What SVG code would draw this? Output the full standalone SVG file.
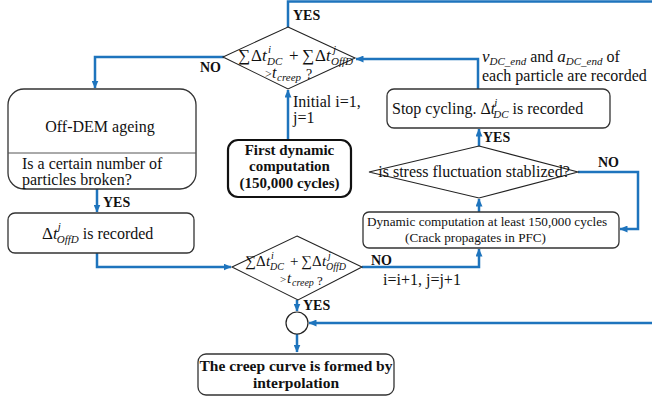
<svg xmlns="http://www.w3.org/2000/svg" width="652" height="399" viewBox="0 0 652 399" font-family="Liberation Serif, DejaVu Serif, serif">
<defs>
<marker id="ah" markerUnits="userSpaceOnUse" markerWidth="8" markerHeight="7" refX="7.5" refY="3.5" orient="auto">
<path d="M0,0 L8,3.5 L0,7 z" fill="#1E74BD"/>
</marker>
<style>
text{font-family:'Liberation Serif','DejaVu Serif',serif;fill:#111}
.t16{font-size:16px}
.t13{font-size:13.2px}
.b{font-weight:bold}
.lbl{font-size:14px;font-weight:bold}
.it{font-style:italic}
.box{fill:#fff;stroke:#333;stroke-width:1.3}
.dia{fill:#fff;stroke:#222;stroke-width:1.1}
.con{fill:none;stroke:#1E74BD;stroke-width:2.5}
.arr{marker-end:url(#ah)}
</style>
</defs>
<rect width="652" height="399" fill="#fff"/>

<g id="connectors">
<path class="con" d="M288,27 V1.5 H652"/>
<path class="con arr" d="M224,57 H95 V88"/>
<path class="con arr" d="M288,140 V90"/>
<path class="con arr" d="M478,89 V59 H356"/>
<path class="con arr" d="M479,146 V129"/>
<path class="con arr" d="M479,212 V199"/>
<path class="con arr" d="M578,172 H638 V229 H620"/>
<path class="con arr" d="M362,267 H479 V249"/>
<path class="con arr" d="M97,253 V267 H231"/>
<path class="con arr" d="M97,189 V212"/>
<path class="con arr" d="M297,300 V311"/>
<path class="con arr" d="M297,334 V352"/>
<path class="con arr" d="M652,323 H309"/>
</g>

<g id="labels">
<text class="lbl" x="293" y="20">YES</text>
<text class="lbl" x="200" y="72">NO</text>
<text class="lbl" x="103" y="207">YES</text>
<text class="lbl" x="483" y="142">YES</text>
<text class="lbl" x="598" y="167">NO</text>
<text class="lbl" x="371" y="265">NO</text>
<text class="lbl" x="303" y="310">YES</text>
<text class="t16" x="383" y="285">i=i+1, j=j+1</text>
<text class="t16" x="293" y="107">Initial i=1,</text>
<text class="t16" x="293" y="123">j=1</text>
<text class="t16" x="482" y="62"><tspan class="it" font-size="17">v</tspan><tspan class="it" font-size="11" y="65">DC_end</tspan><tspan y="62"> and </tspan><tspan class="it" font-size="17">a</tspan><tspan class="it" font-size="11" y="65">DC_end</tspan><tspan y="62"> of</tspan></text>
<text class="t16" x="482" y="81">each particle are recorded</text>
</g>

<g id="decision-top">
<polygon class="dia" points="288,27 355,58 288,89 223,57"/>
<text font-size="17"><tspan x="238" y="61">∑</tspan><tspan x="251" y="61">Δ</tspan><tspan class="it" x="262" y="61">t</tspan><tspan class="it" font-size="11" x="268" y="53">i</tspan><tspan class="it" font-size="11" x="267" y="65">DC</tspan><tspan x="289" y="61">+</tspan><tspan x="302" y="61">∑</tspan><tspan x="315" y="61">Δ</tspan><tspan class="it" x="326" y="61">t</tspan><tspan class="it" font-size="11" x="333" y="53">j</tspan><tspan class="it" font-size="11" x="331" y="65">OffD</tspan><tspan font-size="12" x="265" y="78">&gt;</tspan><tspan class="it" font-size="16" x="272" y="78">t</tspan><tspan class="it" font-size="11" x="277" y="81">creep</tspan><tspan font-size="14" x="306" y="79">?</tspan></text>
</g>

<g id="off-dem">
<rect class="box" x="8" y="89" width="188" height="100" rx="16"/>
<line x1="8" y1="153" x2="196" y2="153" stroke="#555" stroke-width="1"/>
<text class="t16" x="100" y="132" text-anchor="middle">Off-DEM ageing</text>
<text class="t16" x="22" y="169">Is a certain number of</text>
<text class="t16" x="22" y="185">particles broken?</text>
</g>

<g id="first-dynamic">
<rect x="228" y="140" width="123" height="57" rx="10" fill="#fff" stroke="#111" stroke-width="2.2"/>
<text class="b" font-size="15" x="289.5" y="155" text-anchor="middle">First dynamic</text>
<text class="b" font-size="15" x="289.5" y="171" text-anchor="middle">computation</text>
<text class="b" font-size="15" x="289.5" y="188" text-anchor="middle">(150,000 cycles)</text>
</g>

<g id="stop-cycling">
<rect class="box" x="387" y="89" width="223" height="39" rx="7"/>
<text class="t16" x="392" y="114">Stop cycling. <tspan>Δ</tspan><tspan class="it">t</tspan><tspan class="it" font-size="11" dx="-1" dy="-8">i</tspan><tspan class="it" font-size="11" dx="-4" dy="12">DC</tspan><tspan dy="-4"> is recorded</tspan></text>
</g>

<g id="stress-decision">
<polygon class="dia" points="479,146 578,172 479,198 369,172"/>
<text class="t16" x="474" y="177" text-anchor="middle">is stress fluctuation stablized?</text>
</g>

<g id="dynamic-computation">
<rect class="box" x="363" y="212" width="256" height="36" rx="6"/>
<text class="t13" x="367" y="226">Dynamic computation at least 150,000 cycles</text>
<text class="t13" x="405" y="242">(Crack propagates in PFC)</text>
</g>

<g id="offd-recorded">
<rect class="box" x="8" y="213" width="186" height="40" rx="7"/>
<text class="t16" x="42" y="239"><tspan font-size="17">Δ</tspan><tspan class="it" font-size="17">t</tspan><tspan class="it" font-size="11" dx="0" dy="-9">j</tspan><tspan class="it" font-size="11" dx="-4" dy="13">OffD</tspan><tspan dy="-4"> is recorded</tspan></text>
</g>

<g id="decision-bottom">
<polygon class="dia" points="297,236 362,267 298,300 232,267"/>
<text font-size="15"><tspan x="245" y="266">∑</tspan><tspan x="256" y="266">Δ</tspan><tspan class="it" x="266" y="266">t</tspan><tspan class="it" font-size="10" x="271" y="259">i</tspan><tspan class="it" font-size="10" x="270" y="270">DC</tspan><tspan x="290" y="266">+</tspan><tspan x="301" y="266">∑</tspan><tspan x="312" y="266">Δ</tspan><tspan class="it" x="322" y="266">t</tspan><tspan class="it" font-size="10" x="328" y="259">j</tspan><tspan class="it" font-size="10" x="326" y="270">OffD</tspan><tspan font-size="11" x="280" y="283">&gt;</tspan><tspan class="it" font-size="15" x="287" y="283">t</tspan><tspan class="it" font-size="10" x="292" y="286">creep</tspan><tspan font-size="13" x="317" y="285">?</tspan></text>
</g>

<g id="merge">
<circle cx="297" cy="323" r="11" fill="#fff" stroke="#222" stroke-width="1.2"/>
</g>

<g id="creep-curve">
<rect class="box" x="198" y="354" width="196" height="41" rx="8"/>
<text class="b" font-size="15.5" x="296" y="371" text-anchor="middle">The creep curve is formed by</text>
<text class="b" font-size="15.5" x="296" y="388" text-anchor="middle">interpolation</text>
</g>
</svg>
